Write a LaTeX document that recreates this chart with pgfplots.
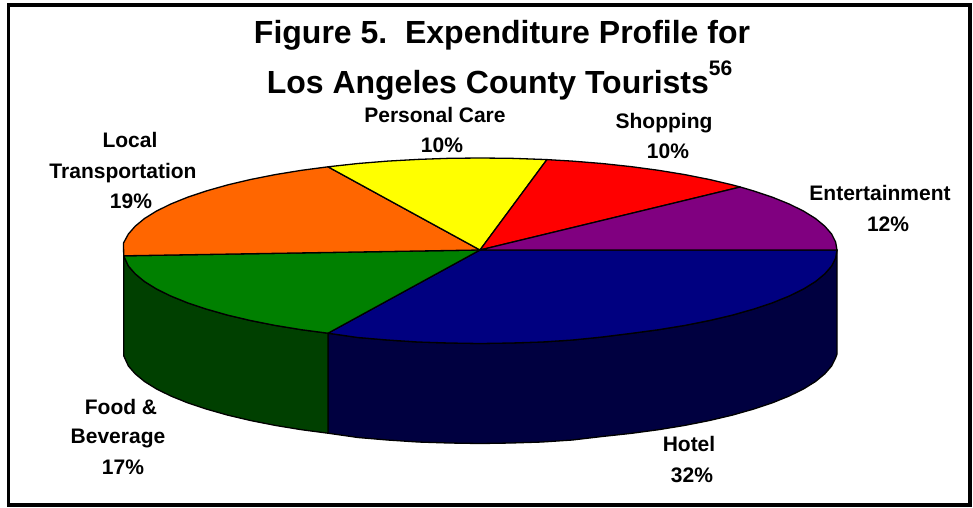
\documentclass[border=0pt]{standalone}
\usepackage{pgfplots}
\pgfplotsset{compat=1.18}
\usepackage{fontspec}
\setmainfont{Liberation Sans}
\definecolor{hotelTop}{HTML}{000080}
\definecolor{hotelWall}{HTML}{000040}
\definecolor{foodTop}{HTML}{008000}
\definecolor{foodWall}{HTML}{004000}
\definecolor{localTop}{HTML}{FF6600}
\definecolor{careTop}{HTML}{FFFF00}
\definecolor{shopTop}{HTML}{FF0000}
\definecolor{funTop}{HTML}{800080}
\tikzset{
  lab/.style={font=\bfseries\fontsize{21}{21}\selectfont, anchor=base, inner sep=0pt, text=black},
  ttl/.style={font=\bfseries\fontsize{32}{32}\selectfont, anchor=base, inner sep=0pt, text=black},
}
\begin{document}
\begin{tikzpicture}
\useasboundingbox (0,0) rectangle (973pt,507pt);
\begin{axis}[
  hide axis, scale only axis, width=973pt, height=507pt,
  xmin=0, xmax=973, ymin=0, ymax=507, y dir=reverse,
  clip=false, no markers,
  every axis plot/.append style={draw=black, line width=1.3pt, line join=round},
]
% Side walls of the tilted pie (drawn first, the top faces overlap them)
\addplot[fill=hotelWall] coordinates {
 (837,250)(837,354)(835.6,358)(831.6,366)(824.8,373.8)(815.5,381.5)(803.6,388.9)(789.2,396)
 (772.4,402.8)(753.5,409.1)(732.4,415.1)(709.5,420.5)(684.8,425.4)(658.5,429.7)(630.9,433.4)
 (602.1,436.5)(572.4,440)(542,442)(511.1,443)(480,443.5)(448.9,443)(418,442)(387.6,440)(357.9,437.5)(328,433.2)
 (328,333.2)(357.9,337.5)(387.6,340)(418,342)(448.9,343)(480,343.5)(511.1,343)(542,342)(572.4,340)(602.1,337)
 (630.9,333.4)(658.5,329.7)(684.8,325.4)(709.5,320.5)(732.4,315.1)(753.5,309.1)(772.4,302.8)(789.2,296)
 (803.6,288.9)(815.5,281.5)(824.8,273.8)(831.6,266)(835.6,258)} --cycle;
\addplot[fill=foodWall] coordinates {
 (328,333.2)(328,433.2)(301.5,429.7)(275.2,425.4)(250.5,420.5)(227.6,415.1)(206.5,409.1)(187.6,402.8)
 (170.8,396)(156.4,388.9)(144.5,381.5)(135.2,373.8)(128.4,366)(123.7,355.8)(123.7,255.8)(128.4,266)
 (135.2,273.8)(144.5,281.5)(156.4,288.9)(170.8,296)(187.6,302.8)(206.5,309.1)(227.6,315.1)(250.5,320.5)
 (275.2,325.4)(301.5,329.7)} --cycle;
% Top faces: Hotel 32, Food 17, Local Transportation 19, Personal Care 10, Shopping 10, Entertainment 12
\addplot[fill=hotelTop] coordinates {
 (480,250)(837,250)(835.6,258)(831.6,266)(824.8,273.8)(815.5,281.5)(803.6,288.9)(789.2,296)(772.4,302.8)
 (753.5,309.1)(732.4,315.1)(709.5,320.5)(684.8,325.4)(658.5,329.7)(630.9,333.4)(602.1,337)(572.4,340)
 (542,342)(511.1,343)(480,343.5)(448.9,343)(418,342)(387.6,340)(357.9,337.5)(328,333.2)} --cycle;
\addplot[fill=foodTop] coordinates {
 (480,250)(328,333.2)(301.5,329.7)(275.2,325.4)(250.5,320.5)(227.6,315.1)(206.5,309.1)(187.6,302.8)
 (170.8,296)(156.4,288.9)(144.5,281.5)(135.2,273.8)(128.4,266)(123.7,255.8)} --cycle;
\addplot[fill=localTop] coordinates {
 (480,250)(123.7,255.8)(123.5,243)(128.4,234)(135.2,226.2)(144.5,218.5)(156.4,211.1)(170.8,204)(187.6,197.2)
 (206.5,190.9)(227.6,184.9)(250.5,179.5)(275.2,174.6)(301.5,170.3)(328,166.8)} --cycle;
\addplot[fill=careTop] coordinates {
 (480,250)(328,166.8)(357.9,163.5)(387.6,161.1)(418,159.4)(448.9,158.3)(480,158)(511.1,158.3)(542,159.4)(546.9,159.6)} --cycle;
\addplot[fill=shopTop] coordinates {
 (480,250)(546.9,159.6)(572.4,161.1)(602.1,163.5)(630.9,166.6)(658.5,170.3)(684.8,174.6)(709.5,179.5)(732.4,184.9)(740.3,187)} --cycle;
\addplot[fill=funTop] coordinates {
 (480,250)(740.3,187)(753.5,190.9)(772.4,197.2)(789.2,204)(803.6,211.1)(815.5,218.5)(824.8,226.2)(831.6,234)(835.6,242)(837,250)} --cycle;
% Outer frame
\addplot[draw=black, line width=3.6pt, line join=miter] coordinates {(8.5,5)(970,5)(970,505)(8.5,505)} --cycle;
% Title
\node[ttl] at (axis cs:502,43) {Figure 5.\ \ Expenditure Profile for};
\node[ttl] at (axis cs:499.5,93) {Los Angeles County Tourists\raisebox{18pt}{\fontsize{21}{21}\selectfont 56}};
% Slice labels
\node[lab] at (axis cs:435,122) {Personal Care};
\node[lab] at (axis cs:442,152) {10\%};
\node[lab] at (axis cs:664,128) {Shopping};
\node[lab] at (axis cs:668,158) {10\%};
\node[lab] at (axis cs:880,200) {Entertainment};
\node[lab] at (axis cs:888,231) {12\%};
\node[lab] at (axis cs:130,147) {Local};
\node[lab] at (axis cs:123,178) {Transportation};
\node[lab] at (axis cs:131,208) {19\%};
\node[lab] at (axis cs:121,414) {Food \&};
\node[lab] at (axis cs:118,443) {Beverage};
\node[lab] at (axis cs:123,474) {17\%};
\node[lab] at (axis cs:689,451) {Hotel};
\node[lab] at (axis cs:692,482) {32\%};
\end{axis}
\end{tikzpicture}
\end{document}
